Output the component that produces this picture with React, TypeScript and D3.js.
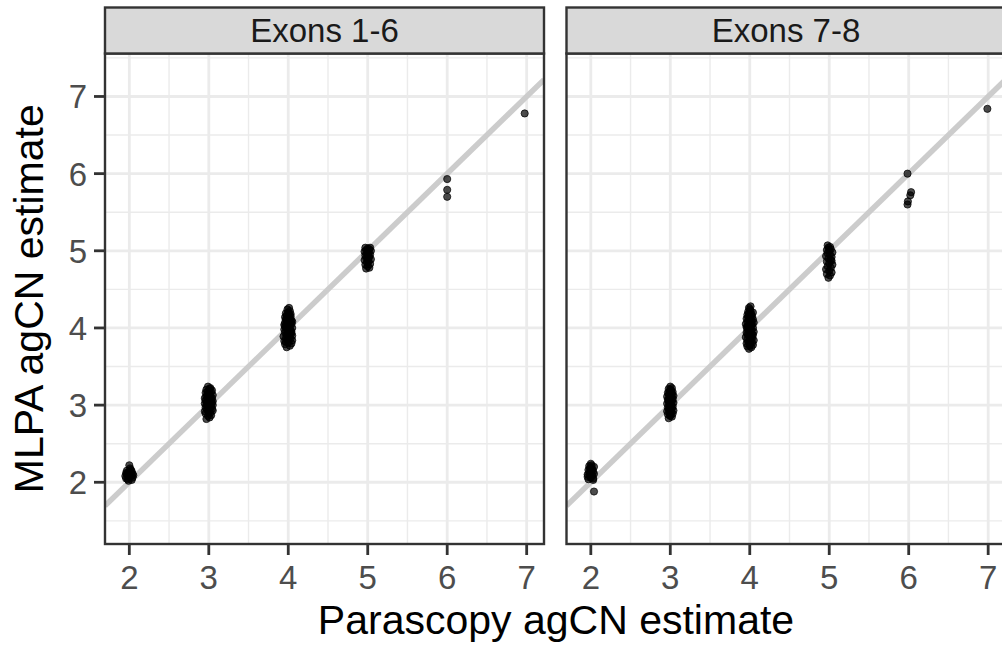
import React from "react";
import * as d3 from "d3";

// ---- data -------------------------------------------------------------
const panelTitles = ["Exons 1-6", "Exons 7-8"];
const xTicks = [2, 3, 4, 5, 6, 7];
const yTicks = [2, 3, 4, 5, 6, 7];
const xMinor = [2.5, 3.5, 4.5, 5.5, 6.5];
const yMinor = [1.5, 2.5, 3.5, 4.5, 5.5, 6.5, 7.5];

// Exons 1-6: [Parascopy (jittered), MLPA]
const exons16Cn2: [number, number][] = [
  [1.96, 2.05], [1.98, 2.10], [2.00, 2.08], [2.02, 2.12], [2.04, 2.06], [1.97, 2.15], [2.01, 2.18], [2.03, 2.03],
  [1.99, 2.13], [2.05, 2.09], [1.95, 2.08], [2.00, 2.22], [2.02, 2.16], [1.98, 2.04], [2.04, 2.11], [2.01, 2.07],
  [1.97, 2.11], [2.03, 2.14], [1.99, 2.02], [2.00, 2.10], [1.96, 2.12], [2.02, 2.09],
];
const exons16Cn3: [number, number][] = [
  [2.97, 2.82], [3.01, 2.84], [2.99, 2.86], [3.03, 2.87], [2.96, 2.89], [3.02, 2.90], [3.00, 2.91], [2.95, 2.92],
  [3.05, 2.93], [2.98, 2.94], [3.04, 2.95], [3.01, 2.96], [2.96, 2.97], [3.03, 2.98], [2.99, 2.99], [3.05, 3.00],
  [2.97, 3.00], [3.02, 3.01], [2.95, 3.02], [3.00, 3.03], [3.04, 3.03], [2.98, 3.04], [3.05, 3.05], [2.96, 3.06],
  [3.01, 3.06], [3.03, 3.07], [2.99, 3.08], [2.95, 3.09], [3.04, 3.09], [3.00, 3.10], [2.97, 3.11], [3.02, 3.12],
  [3.05, 3.13], [2.98, 3.14], [3.01, 3.15], [2.96, 3.16], [3.03, 3.17], [2.99, 3.18], [3.04, 3.19], [2.97, 3.20],
  [3.01, 3.21], [3.02, 3.22], [2.99, 3.24], [3.00, 2.97], [2.98, 3.02],
];
const exons16Cn4: [number, number][] = [
  [3.98, 3.75], [4.02, 3.77], [3.96, 3.79], [4.04, 3.80], [4.00, 3.81], [3.95, 3.83], [4.05, 3.84], [3.99, 3.85],
  [4.03, 3.86], [3.97, 3.87], [4.01, 3.88], [3.94, 3.89], [4.05, 3.90], [3.98, 3.91], [4.02, 3.92], [4.00, 3.93],
  [3.96, 3.94], [4.04, 3.95], [3.99, 3.96], [4.03, 3.97], [3.95, 3.98], [4.01, 3.99], [4.05, 4.00], [3.97, 4.00],
  [4.00, 4.01], [4.02, 4.02], [3.98, 4.03], [3.95, 4.04], [4.04, 4.05], [4.01, 4.06], [3.96, 4.07], [4.03, 4.08],
  [3.99, 4.09], [4.04, 4.10], [3.97, 4.11], [4.02, 4.12], [4.00, 4.13], [3.96, 4.14], [4.03, 4.15], [3.98, 4.16],
  [4.01, 4.17], [4.03, 4.18], [3.97, 4.19], [4.00, 4.20], [4.02, 4.22], [3.99, 4.24], [4.01, 4.26], [3.96, 4.02],
  [4.04, 3.93], [3.99, 4.06], [4.02, 3.96], [3.97, 3.82], [4.01, 3.89], [4.05, 4.08], [3.98, 4.12],
];
const exons16Cn5: [number, number][] = [
  [4.98, 4.77], [5.02, 4.78], [5.00, 4.80], [4.97, 4.82], [5.03, 4.83], [4.99, 4.85], [5.01, 4.86], [4.96, 4.88],
  [5.04, 4.89], [5.00, 4.90], [4.98, 4.91], [5.02, 4.92], [4.97, 4.94], [5.03, 4.95], [5.00, 4.96], [4.99, 4.97],
  [5.01, 4.98], [4.96, 4.99], [5.04, 5.00], [4.98, 5.01], [5.02, 5.02], [5.00, 5.03], [4.97, 5.04], [5.03, 5.04],
  [5.01, 4.93],
];
const exons16High: [number, number][] = [
  [6.00, 5.93], [6.00, 5.79], [6.00, 5.70], [6.975, 6.78],
];

// Exons 7-8
const exons78Cn2: [number, number][] = [
  [1.97, 2.04], [2.00, 2.06], [2.03, 2.05], [1.99, 2.08], [2.02, 2.09], [1.96, 2.10], [2.04, 2.11], [2.00, 2.12],
  [1.98, 2.13], [2.03, 2.14], [2.01, 2.15], [1.97, 2.16], [2.02, 2.17], [1.99, 2.18], [2.00, 2.19], [2.04, 2.20],
  [1.98, 2.21], [2.01, 2.22], [2.00, 2.24], [1.96, 2.07], [2.03, 2.03], [1.99, 2.11], [2.04, 1.88],
];
const exons78Cn3: [number, number][] = [
  [2.98, 2.83], [3.02, 2.85], [3.00, 2.86], [2.97, 2.88], [3.03, 2.89], [2.99, 2.90], [3.01, 2.91], [2.96, 2.92],
  [3.04, 2.93], [3.00, 2.94], [2.98, 2.95], [3.02, 2.96], [2.97, 2.97], [3.03, 2.98], [3.00, 2.99], [2.99, 3.00],
  [3.01, 3.01], [2.96, 3.02], [3.04, 3.03], [2.98, 3.04], [3.02, 3.05], [3.00, 3.06], [2.97, 3.07], [3.03, 3.08],
  [2.99, 3.09], [3.01, 3.10], [2.96, 3.11], [3.04, 3.12], [3.00, 3.13], [2.98, 3.14], [3.02, 3.15], [2.97, 3.16],
  [3.03, 3.17], [2.99, 3.18], [3.01, 3.19], [3.00, 3.20], [2.98, 3.21], [3.02, 3.22], [3.00, 3.24], [2.99, 3.03],
  [3.01, 2.97], [3.02, 3.11], [2.98, 3.07], [3.00, 2.87], [3.01, 3.16],
];
const exons78Cn4: [number, number][] = [
  [3.99, 3.73], [4.02, 3.75], [3.97, 3.76], [4.04, 3.78], [4.00, 3.79], [3.96, 3.80], [4.03, 3.81], [3.98, 3.82],
  [4.01, 3.83], [4.05, 3.84], [3.97, 3.85], [4.00, 3.86], [4.03, 3.87], [3.95, 3.88], [4.02, 3.89], [3.99, 3.90],
  [4.04, 3.91], [3.97, 3.92], [4.01, 3.93], [3.96, 3.94], [4.05, 3.95], [3.99, 3.96], [4.02, 3.97], [3.98, 3.98],
  [4.00, 3.99], [4.04, 4.00], [3.96, 4.01], [4.01, 4.02], [3.98, 4.03], [4.03, 4.04], [3.95, 4.05], [4.00, 4.06],
  [4.05, 4.07], [3.97, 4.08], [4.02, 4.09], [3.99, 4.10], [4.04, 4.11], [3.96, 4.12], [4.01, 4.13], [3.98, 4.14],
  [4.03, 4.15], [4.00, 4.16], [3.97, 4.17], [4.02, 4.18], [3.99, 4.19], [4.04, 4.20], [3.98, 4.21], [4.01, 4.22],
  [4.00, 4.24], [3.99, 4.26], [4.01, 4.28], [4.03, 3.92], [3.97, 4.00], [4.00, 3.77], [4.02, 4.05],
];
const exons78Cn5: [number, number][] = [
  [4.99, 4.65], [5.01, 4.68], [4.97, 4.70], [5.03, 4.72], [5.00, 4.74], [4.96, 4.76], [5.02, 4.78], [4.98, 4.80],
  [5.04, 4.82], [5.00, 4.84], [4.97, 4.86], [5.02, 4.88], [4.99, 4.90], [5.03, 4.92], [4.96, 4.93], [5.01, 4.95],
  [4.98, 4.97], [5.04, 4.98], [5.00, 5.00], [4.97, 5.01], [5.02, 5.02], [4.99, 5.04], [5.01, 5.05], [4.98, 5.07],
  [5.03, 4.87],
];
const exons78High: [number, number][] = [
  [5.985, 6.00], [6.03, 5.76], [6.02, 5.72], [5.99, 5.64], [5.985, 5.60], [6.99, 6.84],
];

const xDomain: [number, number] = [1.694, 7.218];
const yDomain: [number, number] = [1.2, 7.557];

// ---- layout -----------------------------------------------------------
const W = 1002;
const H = 646;
const panelW = 439;
const panelTop = 53.5;
const panelBottom = 544;
const stripTop = 7.5;
const panelLefts = [105, 566.5];
const FONT = "'Liberation Sans', Arial, Helvetica, sans-serif";

export default function App() {
  const panels = [
    exons16Cn2.concat(exons16Cn3, exons16Cn4, exons16Cn5, exons16High),
    exons78Cn2.concat(exons78Cn3, exons78Cn4, exons78Cn5, exons78High),
  ];
  const y = d3.scaleLinear().domain(yDomain).range([panelBottom, panelTop]);

  return (
    <svg
      width={W}
      height={H}
      style={{ position: "absolute", left: 0, top: 0, background: "#fff" }}
      fontFamily={FONT}
    >
      <rect x={0} y={0} width={W} height={H} fill="#fff" />
      <defs>
        {panelLefts.map((l, i) => (
          <clipPath id={`clip${i}`} key={i}>
            <rect x={l} y={panelTop} width={panelW} height={panelBottom - panelTop} />
          </clipPath>
        ))}
      </defs>
      {panelLefts.map((left, pi) => {
        const x = d3.scaleLinear().domain(xDomain).range([left, left + panelW]);
        const right = left + panelW;
        const pts = panels[pi];
        return (
          <g key={pi}>
            <g clipPath={`url(#clip${pi})`}>
              <rect x={left} y={panelTop} width={panelW} height={panelBottom - panelTop} fill="#fff" />
              {yMinor.map((v) => (
                <line key={"ym" + v} x1={left} x2={right} y1={y(v)} y2={y(v)} stroke="#ebebeb" strokeWidth={1.4} />
              ))}
              {xMinor.map((v) => (
                <line key={"xm" + v} x1={x(v)} x2={x(v)} y1={panelTop} y2={panelBottom} stroke="#ebebeb" strokeWidth={1.4} />
              ))}
              {yTicks.map((v) => (
                <line key={"yM" + v} x1={left} x2={right} y1={y(v)} y2={y(v)} stroke="#ebebeb" strokeWidth={2.8} />
              ))}
              {xTicks.map((v) => (
                <line key={"xM" + v} x1={x(v)} x2={x(v)} y1={panelTop} y2={panelBottom} stroke="#ebebeb" strokeWidth={2.8} />
              ))}
              <line
                x1={x(xDomain[0])}
                y1={y(xDomain[0])}
                x2={x(xDomain[1])}
                y2={y(xDomain[1])}
                stroke="#cccccc"
                strokeWidth={5.5}
              />
              {pts.map((p, i) => (
                <circle
                  key={i}
                  cx={x(p[0])}
                  cy={y(p[1])}
                  r={3.6}
                  fill="#000"
                  fillOpacity={0.7}
                  stroke="#000"
                  strokeOpacity={0.7}
                  strokeWidth={1}
                />
              ))}
            </g>
            <rect
              x={left}
              y={panelTop}
              width={panelW}
              height={panelBottom - panelTop}
              fill="none"
              stroke="#333333"
              strokeWidth={2.4}
            />
            {/* strip */}
            <rect
              x={left}
              y={stripTop}
              width={panelW}
              height={panelTop - stripTop}
              fill="#d9d9d9"
              stroke="#333333"
              strokeWidth={2.4}
            />
            <text x={(left + right) / 2} y={42} textAnchor="middle" fontSize={33} fill="#1a1a1a">
              {panelTitles[pi]}
            </text>
            {/* x axis */}
            {xTicks.map((v) => (
              <g key={"xt" + v}>
                <line x1={x(v)} x2={x(v)} y1={panelBottom + 1} y2={panelBottom + 11} stroke="#333333" strokeWidth={2.8} />
                <text x={x(v)} y={589} textAnchor="middle" fontSize={33} fill="#4d4d4d">
                  {v}
                </text>
              </g>
            ))}
            {pi === 0 &&
              yTicks.map((v) => (
                <g key={"yt" + v}>
                  <line x1={left - 11} x2={left - 1} y1={y(v)} y2={y(v)} stroke="#333333" strokeWidth={2.8} />
                  <text x={87} y={y(v) + 12} textAnchor="end" fontSize={33} fill="#4d4d4d">
                    {v}
                  </text>
                </g>
              ))}
          </g>
        );
      })}
      <text x={556} y={634} textAnchor="middle" fontSize={41} fill="#000">
        Parascopy agCN estimate
      </text>
      <text
        transform={`translate(43, ${(panelTop + panelBottom) / 2}) rotate(-90)`}
        textAnchor="middle"
        fontSize={41}
        fill="#000"
      >
        MLPA agCN estimate
      </text>
    </svg>
  );
}
